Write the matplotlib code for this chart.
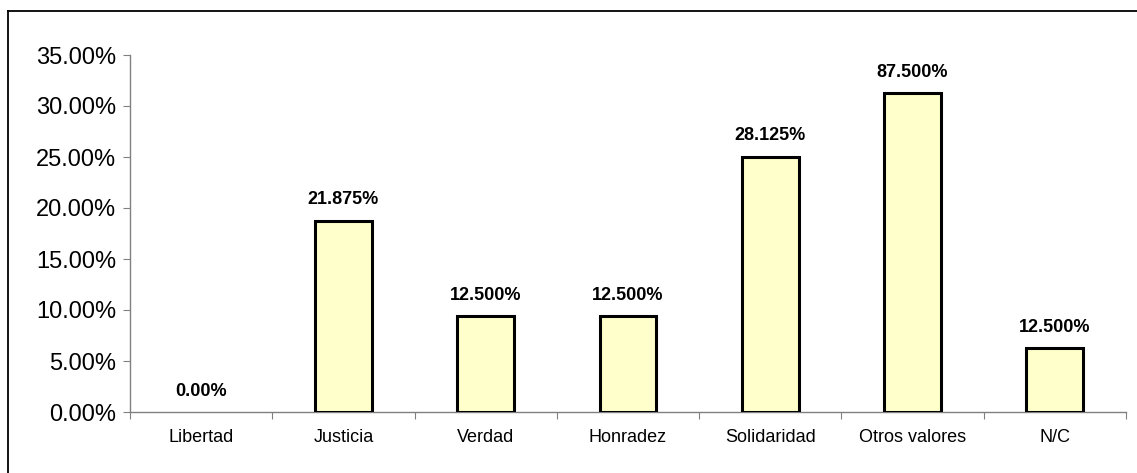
import matplotlib.pyplot as plt
import numpy as np
from matplotlib.lines import Line2D

plt.rcParams['font.family'] = ['Liberation Sans', 'DejaVu Sans']

categorias = ['Libertad', 'Justicia', 'Verdad', 'Honradez', 'Solidaridad', 'Otros valores', 'N/C']
alturas = [0.0, 18.75, 9.375, 9.375, 25.0, 31.25, 6.25]
etiquetas = ['0.00%', '21.875%', '12.500%', '12.500%', '28.125%', '87.500%', '12.500%']
y_ticks = [0, 5, 10, 15, 20, 25, 30, 35]


def plot_data():
    fig = plt.figure(figsize=(11.37, 4.73), dpi=100)
    ax = fig.add_axes([130 / 1137, 1 - 412 / 473, 996 / 1137, 357 / 473])

    x = np.arange(len(categorias))
    anchos_borde = [2.2 if h > 0 else 0 for h in alturas]
    ax.bar(x, alturas, width=0.4, color='#FFFFCC', edgecolor='black', linewidth=anchos_borde, zorder=3)
    for i, lab in enumerate(etiquetas):
        ax.annotate(lab, (x[i], alturas[i]), xytext=(0, 9), textcoords='offset points',
                    ha='center', va='bottom', fontsize=13, fontweight='bold')

    ax.set_xlim(-0.5, len(categorias) - 0.5)
    ax.set_ylim(0, 35)
    ax.set_yticks(y_ticks)
    ax.set_yticklabels(['%.2f%%' % v for v in y_ticks], fontsize=17)
    ax.set_xticks(np.arange(len(categorias) + 1) - 0.5)
    ax.set_xticklabels([])
    ax.set_xticks(x, minor=True)
    ax.set_xticklabels(categorias, minor=True, fontsize=13)
    ax.tick_params(axis='x', which='minor', length=0, pad=12)
    ax.tick_params(axis='x', which='major', length=5, color='#808080', direction='out')
    ax.tick_params(axis='y', length=5, color='#808080', direction='out', pad=5)

    for s in ['top', 'right']:
        ax.spines[s].set_visible(False)
    for s in ['left', 'bottom']:
        ax.spines[s].set_color('#808080')
        ax.spines[s].set_linewidth(1.0)

    # marco exterior (solo arriba e izquierda visibles)
    fig.add_artist(Line2D([8 / 1137, 8 / 1137], [0, 1 - 11 / 473], color='black', linewidth=1.3,
                          transform=fig.transFigure))
    fig.add_artist(Line2D([8 / 1137, 1], [1 - 11 / 473, 1 - 11 / 473], color='black', linewidth=1.3,
                          transform=fig.transFigure))

    fig.savefig('out.png', dpi=100)


if __name__ == '__main__':
    plot_data()
